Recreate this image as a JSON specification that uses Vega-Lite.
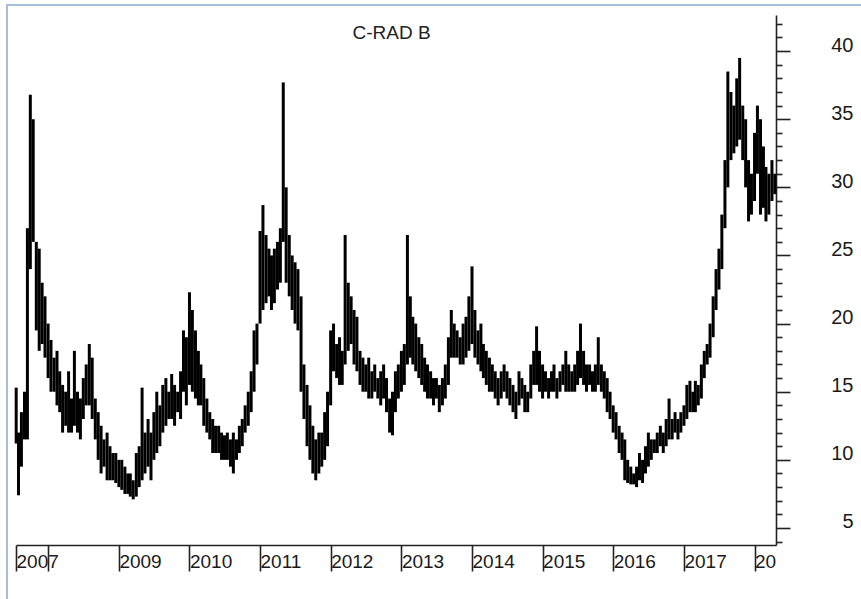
{
  "$schema": "https://vega.github.io/schema/vega-lite/v6.json",
  "width": 855,
  "height": 595,
  "autosize": {"type": "none"},
  "padding": {"left": 7, "top": 5, "right": 0, "bottom": 0},
  "background": "white",
  "config": {"view": {"stroke": "#a3bfdc", "strokeWidth": 2}},
  "title": {"text": "C-RAD B", "anchor": "middle", "frame": "group", "dx": -43, "dy": 42, "fontSize": 19, "font": "Liberation Sans", "fontWeight": "normal", "color": "#222222"},
  "data": {"values": [
    {"date":"2007-07-20","high":15.3,"low":11.2},
    {"date":"2007-08-01","high":12,"low":7.4},
    {"date":"2007-08-16","high":13.5,"low":9.5},
    {"date":"2007-09-01","high":15,"low":11.5},
    {"date":"2007-09-16","high":27,"low":11.5},
    {"date":"2007-10-01","high":36.8,"low":24},
    {"date":"2007-10-16","high":35,"low":26},
    {"date":"2007-11-01","high":26,"low":19.5},
    {"date":"2007-11-16","high":25.5,"low":18},
    {"date":"2007-12-01","high":23,"low":18.5},
    {"date":"2007-12-16","high":22,"low":17.5},
    {"date":"2008-01-01","high":20,"low":16},
    {"date":"2008-01-16","high":18.8,"low":15},
    {"date":"2008-02-01","high":17.5,"low":15},
    {"date":"2008-02-16","high":18,"low":14},
    {"date":"2008-03-01","high":16.5,"low":13.5},
    {"date":"2008-03-16","high":15.5,"low":12},
    {"date":"2008-04-01","high":15,"low":12.5},
    {"date":"2008-04-16","high":16.5,"low":12},
    {"date":"2008-05-01","high":14.5,"low":12},
    {"date":"2008-05-16","high":18,"low":12.5},
    {"date":"2008-06-01","high":15,"low":12},
    {"date":"2008-06-16","high":14.5,"low":11.5},
    {"date":"2008-07-01","high":16,"low":13},
    {"date":"2008-07-16","high":17,"low":14},
    {"date":"2008-08-01","high":18.5,"low":14},
    {"date":"2008-08-16","high":17.5,"low":13},
    {"date":"2008-09-01","high":14.5,"low":11.5},
    {"date":"2008-09-16","high":13.5,"low":10},
    {"date":"2008-10-01","high":12.5,"low":9},
    {"date":"2008-10-16","high":11.5,"low":9.5},
    {"date":"2008-11-01","high":12,"low":8.5},
    {"date":"2008-11-16","high":11,"low":8.5},
    {"date":"2008-12-01","high":10.5,"low":8.5},
    {"date":"2008-12-16","high":10.5,"low":8.3},
    {"date":"2009-01-01","high":10,"low":8},
    {"date":"2009-01-16","high":10,"low":7.8},
    {"date":"2009-02-01","high":9.5,"low":7.5},
    {"date":"2009-02-16","high":9,"low":7.5},
    {"date":"2009-03-01","high":9,"low":7.3},
    {"date":"2009-03-16","high":8.5,"low":7.1},
    {"date":"2009-04-01","high":10.5,"low":7.3},
    {"date":"2009-04-16","high":11,"low":8},
    {"date":"2009-05-01","high":15.3,"low":8.5},
    {"date":"2009-05-16","high":12,"low":9},
    {"date":"2009-06-01","high":13,"low":9.5},
    {"date":"2009-06-16","high":12,"low":8.5},
    {"date":"2009-07-01","high":13.5,"low":10},
    {"date":"2009-07-16","high":15,"low":10.5},
    {"date":"2009-08-01","high":14,"low":11},
    {"date":"2009-08-16","high":15.5,"low":12},
    {"date":"2009-09-01","high":16,"low":12.5},
    {"date":"2009-09-16","high":15,"low":13},
    {"date":"2009-10-01","high":16.3,"low":13},
    {"date":"2009-10-16","high":15.5,"low":12.5},
    {"date":"2009-11-01","high":15,"low":13.5},
    {"date":"2009-11-16","high":16.5,"low":13},
    {"date":"2009-12-01","high":19.5,"low":15},
    {"date":"2009-12-16","high":19,"low":14},
    {"date":"2010-01-01","high":22.3,"low":15.5},
    {"date":"2010-01-16","high":21,"low":15},
    {"date":"2010-02-01","high":19.5,"low":14.5},
    {"date":"2010-02-16","high":18,"low":14},
    {"date":"2010-03-01","high":17,"low":14},
    {"date":"2010-03-16","high":16,"low":12.5},
    {"date":"2010-04-01","high":14.5,"low":12},
    {"date":"2010-04-16","high":13.5,"low":11.5},
    {"date":"2010-05-01","high":13,"low":10.5},
    {"date":"2010-05-16","high":12.5,"low":10.5},
    {"date":"2010-06-01","high":12.5,"low":10.5},
    {"date":"2010-06-16","high":12,"low":10},
    {"date":"2010-07-01","high":11.8,"low":10},
    {"date":"2010-07-16","high":12,"low":10},
    {"date":"2010-08-01","high":11.5,"low":9.5},
    {"date":"2010-08-16","high":12,"low":9},
    {"date":"2010-09-01","high":11.5,"low":10},
    {"date":"2010-09-16","high":12.5,"low":10.5},
    {"date":"2010-10-01","high":13,"low":11},
    {"date":"2010-10-16","high":14,"low":12},
    {"date":"2010-11-01","high":15,"low":12.5},
    {"date":"2010-11-16","high":16.5,"low":13.5},
    {"date":"2010-12-01","high":19.5,"low":15},
    {"date":"2010-12-16","high":20,"low":17},
    {"date":"2011-01-01","high":26.8,"low":20},
    {"date":"2011-01-16","high":28.7,"low":21},
    {"date":"2011-02-01","high":26.5,"low":21.5},
    {"date":"2011-02-16","high":25.5,"low":22},
    {"date":"2011-03-01","high":25,"low":21},
    {"date":"2011-03-16","high":25.5,"low":21.5},
    {"date":"2011-04-01","high":26,"low":22.5},
    {"date":"2011-04-16","high":27,"low":23},
    {"date":"2011-05-01","high":37.7,"low":26},
    {"date":"2011-05-16","high":30,"low":23},
    {"date":"2011-06-01","high":26.5,"low":22},
    {"date":"2011-06-16","high":25,"low":21},
    {"date":"2011-07-01","high":24.5,"low":20},
    {"date":"2011-07-16","high":24,"low":19.5},
    {"date":"2011-08-01","high":22,"low":15},
    {"date":"2011-08-16","high":17,"low":13},
    {"date":"2011-09-01","high":15.5,"low":11},
    {"date":"2011-09-16","high":14,"low":10},
    {"date":"2011-10-01","high":12.5,"low":9},
    {"date":"2011-10-16","high":11.5,"low":8.5},
    {"date":"2011-11-01","high":12,"low":9},
    {"date":"2011-11-16","high":12,"low":9.5},
    {"date":"2011-12-01","high":13.5,"low":10},
    {"date":"2011-12-16","high":15,"low":11},
    {"date":"2012-01-01","high":19.5,"low":14},
    {"date":"2012-01-16","high":20,"low":16.5},
    {"date":"2012-02-01","high":18.5,"low":16},
    {"date":"2012-02-16","high":19,"low":15.5},
    {"date":"2012-03-01","high":18,"low":15.5},
    {"date":"2012-03-16","high":26.5,"low":17},
    {"date":"2012-04-01","high":23,"low":18},
    {"date":"2012-04-16","high":22,"low":18.5},
    {"date":"2012-05-01","high":21,"low":17},
    {"date":"2012-05-16","high":20.5,"low":16.5},
    {"date":"2012-06-01","high":18,"low":15.5},
    {"date":"2012-06-16","high":17.5,"low":15},
    {"date":"2012-07-01","high":17,"low":15},
    {"date":"2012-07-16","high":17.5,"low":14.5},
    {"date":"2012-08-01","high":16.5,"low":14.5},
    {"date":"2012-08-16","high":17,"low":15},
    {"date":"2012-09-01","high":16,"low":14.5},
    {"date":"2012-09-16","high":16.5,"low":14},
    {"date":"2012-10-01","high":17,"low":14.5},
    {"date":"2012-10-16","high":16,"low":13.5},
    {"date":"2012-11-01","high":14.5,"low":12},
    {"date":"2012-11-16","high":15,"low":11.8},
    {"date":"2012-12-01","high":16.5,"low":13.5},
    {"date":"2012-12-16","high":17,"low":14.5},
    {"date":"2013-01-01","high":18,"low":15},
    {"date":"2013-01-16","high":18.5,"low":15.5},
    {"date":"2013-02-01","high":26.5,"low":17},
    {"date":"2013-02-16","high":22,"low":17.5},
    {"date":"2013-03-01","high":20.5,"low":17},
    {"date":"2013-03-16","high":20,"low":16.5},
    {"date":"2013-04-01","high":19,"low":16},
    {"date":"2013-04-16","high":18.5,"low":15.5},
    {"date":"2013-05-01","high":17.5,"low":15},
    {"date":"2013-05-16","high":17,"low":14.5},
    {"date":"2013-06-01","high":16.5,"low":14.5},
    {"date":"2013-06-16","high":16,"low":14},
    {"date":"2013-07-01","high":16,"low":14.5},
    {"date":"2013-07-16","high":15.5,"low":13.5},
    {"date":"2013-08-01","high":16,"low":14},
    {"date":"2013-08-16","high":17,"low":14.5},
    {"date":"2013-09-01","high":19,"low":15.5},
    {"date":"2013-09-16","high":21,"low":17.5},
    {"date":"2013-10-01","high":20,"low":17.5},
    {"date":"2013-10-16","high":19.5,"low":17.5},
    {"date":"2013-11-01","high":19,"low":17},
    {"date":"2013-11-16","high":20,"low":17},
    {"date":"2013-12-01","high":20.5,"low":17.5},
    {"date":"2013-12-16","high":22,"low":18},
    {"date":"2014-01-01","high":24.2,"low":18.5},
    {"date":"2014-01-16","high":21,"low":17.5},
    {"date":"2014-02-01","high":19.5,"low":17},
    {"date":"2014-02-16","high":20,"low":16.5},
    {"date":"2014-03-01","high":18.5,"low":16},
    {"date":"2014-03-16","high":18,"low":15.5},
    {"date":"2014-04-01","high":17.5,"low":15},
    {"date":"2014-04-16","high":17,"low":15},
    {"date":"2014-05-01","high":16.5,"low":14.5},
    {"date":"2014-05-16","high":16,"low":14},
    {"date":"2014-06-01","high":16.5,"low":14.5},
    {"date":"2014-06-16","high":17,"low":15},
    {"date":"2014-07-01","high":16.5,"low":14.5},
    {"date":"2014-07-16","high":16,"low":14},
    {"date":"2014-08-01","high":15.5,"low":13.5},
    {"date":"2014-08-16","high":15,"low":13},
    {"date":"2014-09-01","high":16.5,"low":14},
    {"date":"2014-09-16","high":16,"low":14.5},
    {"date":"2014-10-01","high":15.5,"low":13.5},
    {"date":"2014-10-16","high":15,"low":13.5},
    {"date":"2014-11-01","high":17,"low":14.5},
    {"date":"2014-11-16","high":18,"low":15.5},
    {"date":"2014-12-01","high":19.8,"low":15.5},
    {"date":"2014-12-16","high":18,"low":15},
    {"date":"2015-01-01","high":17,"low":14.5},
    {"date":"2015-01-16","high":16.5,"low":15},
    {"date":"2015-02-01","high":16,"low":14.5},
    {"date":"2015-02-16","high":16.5,"low":15},
    {"date":"2015-03-01","high":17,"low":15},
    {"date":"2015-03-16","high":16,"low":14.5},
    {"date":"2015-04-01","high":16.5,"low":15},
    {"date":"2015-04-16","high":17,"low":15.5},
    {"date":"2015-05-01","high":18,"low":15},
    {"date":"2015-05-16","high":17,"low":15},
    {"date":"2015-06-01","high":16.5,"low":15},
    {"date":"2015-06-16","high":17,"low":15},
    {"date":"2015-07-01","high":18,"low":15.5},
    {"date":"2015-07-16","high":20,"low":16},
    {"date":"2015-08-01","high":18,"low":15.5},
    {"date":"2015-08-16","high":17,"low":15},
    {"date":"2015-09-01","high":17,"low":15.5},
    {"date":"2015-09-16","high":16.5,"low":15},
    {"date":"2015-10-01","high":17,"low":15},
    {"date":"2015-10-16","high":19,"low":15.5},
    {"date":"2015-11-01","high":17,"low":15},
    {"date":"2015-11-16","high":16.5,"low":14.5},
    {"date":"2015-12-01","high":16,"low":13.5},
    {"date":"2015-12-16","high":15,"low":13},
    {"date":"2016-01-01","high":14,"low":12},
    {"date":"2016-01-16","high":13.5,"low":11.5},
    {"date":"2016-02-01","high":12.5,"low":10.5},
    {"date":"2016-02-16","high":12,"low":10},
    {"date":"2016-03-01","high":11.5,"low":8.5},
    {"date":"2016-03-16","high":10,"low":8.3},
    {"date":"2016-04-01","high":9.5,"low":8.2},
    {"date":"2016-04-16","high":9,"low":8.2},
    {"date":"2016-05-01","high":9.5,"low":8},
    {"date":"2016-05-16","high":10.5,"low":8.5},
    {"date":"2016-06-01","high":10,"low":8.3},
    {"date":"2016-06-16","high":11,"low":9},
    {"date":"2016-07-01","high":12,"low":9.5},
    {"date":"2016-07-16","high":11.5,"low":10},
    {"date":"2016-08-01","high":11.5,"low":10.5},
    {"date":"2016-08-16","high":12,"low":10.5},
    {"date":"2016-09-01","high":12.5,"low":11},
    {"date":"2016-09-16","high":12,"low":10.5},
    {"date":"2016-10-01","high":13,"low":11},
    {"date":"2016-10-16","high":14.5,"low":11.5},
    {"date":"2016-11-01","high":13,"low":11.5},
    {"date":"2016-11-16","high":13.5,"low":12},
    {"date":"2016-12-01","high":13,"low":11.5},
    {"date":"2016-12-16","high":13.5,"low":12},
    {"date":"2017-01-01","high":14,"low":12.5},
    {"date":"2017-01-16","high":15.5,"low":13},
    {"date":"2017-02-01","high":15.8,"low":13.5},
    {"date":"2017-02-16","high":15,"low":13.5},
    {"date":"2017-03-01","high":15.8,"low":13.5},
    {"date":"2017-03-16","high":15.5,"low":14},
    {"date":"2017-04-01","high":17,"low":14.5},
    {"date":"2017-04-16","high":18,"low":16},
    {"date":"2017-05-01","high":18.5,"low":17},
    {"date":"2017-05-16","high":20,"low":17.5},
    {"date":"2017-06-01","high":22,"low":19},
    {"date":"2017-06-16","high":24,"low":21},
    {"date":"2017-07-01","high":25.5,"low":22.5},
    {"date":"2017-07-16","high":28,"low":24},
    {"date":"2017-08-01","high":32,"low":27},
    {"date":"2017-08-16","high":38.5,"low":30},
    {"date":"2017-09-01","high":37,"low":32},
    {"date":"2017-09-16","high":36,"low":32.5},
    {"date":"2017-10-01","high":38,"low":33},
    {"date":"2017-10-16","high":39.5,"low":33.5},
    {"date":"2017-11-01","high":36,"low":32},
    {"date":"2017-11-16","high":35,"low":30},
    {"date":"2017-12-01","high":32,"low":27.5},
    {"date":"2017-12-16","high":31,"low":28},
    {"date":"2018-01-01","high":34,"low":29},
    {"date":"2018-01-16","high":36,"low":31},
    {"date":"2018-02-01","high":35,"low":28},
    {"date":"2018-02-16","high":33,"low":28.5},
    {"date":"2018-03-01","high":31.5,"low":27.5},
    {"date":"2018-03-16","high":31,"low":28},
    {"date":"2018-04-01","high":32,"low":29},
    {"date":"2018-04-16","high":31,"low":29.5}
  ]},
  "layer": [
    {
      "mark": {"type": "rule", "color": "black", "strokeWidth": 3},
      "encoding": {
        "x": {
          "field": "date", "type": "temporal",
          "scale": {"domain": [{"year": 2007, "month": 7, "date": 19}, {"year": 2018, "month": 4, "date": 22}], "range": [9, 769]},
          "axis": {
            "orient": "bottom", "offset": -55, "title": null, "grid": false,
            "values": [
              {"year": 2007, "month": 7, "date": 19},
              {"year": 2008, "month": 1, "date": 1},
              {"year": 2009, "month": 1, "date": 1},
              {"year": 2010, "month": 1, "date": 1},
              {"year": 2011, "month": 1, "date": 1},
              {"year": 2012, "month": 1, "date": 1},
              {"year": 2013, "month": 1, "date": 1},
              {"year": 2014, "month": 1, "date": 1},
              {"year": 2015, "month": 1, "date": 1},
              {"year": 2016, "month": 1, "date": 1},
              {"year": 2017, "month": 1, "date": 1},
              {"year": 2018, "month": 1, "date": 1}
            ],
            "labelExpr": "timeFormat(datum.value,'%Y') == '2008' ? '' : (timeFormat(datum.value,'%Y') == '2018' ? '20' : timeFormat(datum.value,'%Y'))",
            "domainColor": "#222222", "domainWidth": 1.6,
            "tickColor": "#222222", "tickWidth": 1.6, "tickSize": 26,
            "labelAlign": "left", "labelBaseline": "alphabetic", "labelDx": 3, "labelPadding": -4,
            "labelFont": "Liberation Sans", "labelFontSize": 19, "labelColor": "#1a1a1a",
            "labelOverlap": false, "labelBound": false, "labelFlush": false
          }
        },
        "y": {
          "field": "high", "type": "quantitative",
          "scale": {"domain": [3.75, 42.65], "range": [540, 10], "nice": false, "zero": false},
          "axis": {
            "orient": "right", "offset": -86, "title": null, "grid": false,
            "values": [5, 10, 15, 20, 25, 30, 35, 40],
            "domainColor": "#222222", "domainWidth": 1.6,
            "tickColor": "#222222", "tickWidth": 1.6, "tickSize": 14,
            "labelAlign": "right", "labelBaseline": "alphabetic", "labelDy": 10, "labelPadding": 63,
            "labelFont": "Liberation Sans", "labelFontSize": 20, "labelColor": "#1a1a1a",
            "labelOverlap": false, "labelBound": false, "labelFlush": false
          }
        },
        "y2": {"field": "low"}
      }
    },
    {
      "mark": {"type": "rule", "opacity": 0},
      "encoding": {
        "x": {"field": "date", "type": "temporal"},
        "y": {
          "field": "high", "type": "quantitative",
          "axis": {
            "orient": "right", "offset": -86, "title": null, "grid": false, "domain": false, "labels": false,
            "values": [4, 6, 7, 8, 9, 11, 12, 13, 14, 16, 17, 18, 19, 21, 22, 23, 24, 26, 27, 28, 29, 31, 32, 33, 34, 36, 37, 38, 39, 41, 42],
            "tickColor": "#222222", "tickWidth": 1.6, "tickSize": 6
          }
        },
        "y2": {"field": "low"}
      }
    }
  ],
  "resolve": {"axis": {"y": "independent"}}
}
